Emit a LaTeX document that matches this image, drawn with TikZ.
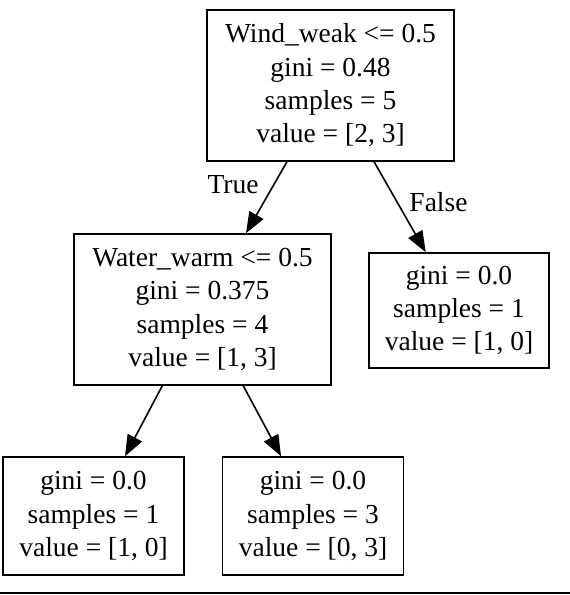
\documentclass[tikz,border=0pt]{standalone}
\usepackage{fontspec}
\setmainfont{Liberation Serif}
\usetikzlibrary{arrows.meta}
\tikzset{
  treebox/.style={draw, rectangle, line width=1.6pt, inner sep=0pt, align=center,
    font=\fontsize{27.5}{33.3}\selectfont},
  arr/.style={line width=1.6pt, -{Triangle[length=21pt,width=16pt]}},
  edgelbl/.style={anchor=base, inner sep=0pt, font=\fontsize{27.5}{33}\selectfont}
}
\begin{document}
\begin{tikzpicture}[x=1pt, y=-1pt]
\useasboundingbox (0,0) rectangle (570,595);
\node[treebox, minimum width=247pt, minimum height=151pt] (root) at (330.5,85.5)
  {Wind\_weak <= 0.5\\gini = 0.48\\samples = 5\\value = [2, 3]};
\node[treebox, minimum width=257pt, minimum height=151pt] (ww) at (202.5,309.5)
  {Water\_warm <= 0.5\\gini = 0.375\\samples = 4\\value = [1, 3]};
\node[treebox, minimum width=180pt, minimum height=115pt] (rl) at (459,310.5)
  {gini = 0.0\\samples = 1\\value = [1, 0]};
\node[treebox, minimum width=181pt, minimum height=118pt] (bl) at (93.5,516)
  {gini = 0.0\\samples = 1\\value = [1, 0]};
\node[treebox, minimum width=181pt, minimum height=118pt] (br) at (313,516)
  {gini = 0.0\\samples = 3\\value = [0, 3]};
\draw[arr] (root) -- (ww);
\draw[arr] (root) -- (rl);
\draw[arr] (ww) -- (bl);
\draw[arr] (ww) -- (br);
\node[edgelbl] (tl) at (233,193) {True};
\node[edgelbl] (fl) at (438.5,211) {False};
\coordinate (la) at (0,593);
\coordinate (lb) at (570,593);
\draw[line width=1.6pt] (la) -- (lb);
\end{tikzpicture}
\end{document}
